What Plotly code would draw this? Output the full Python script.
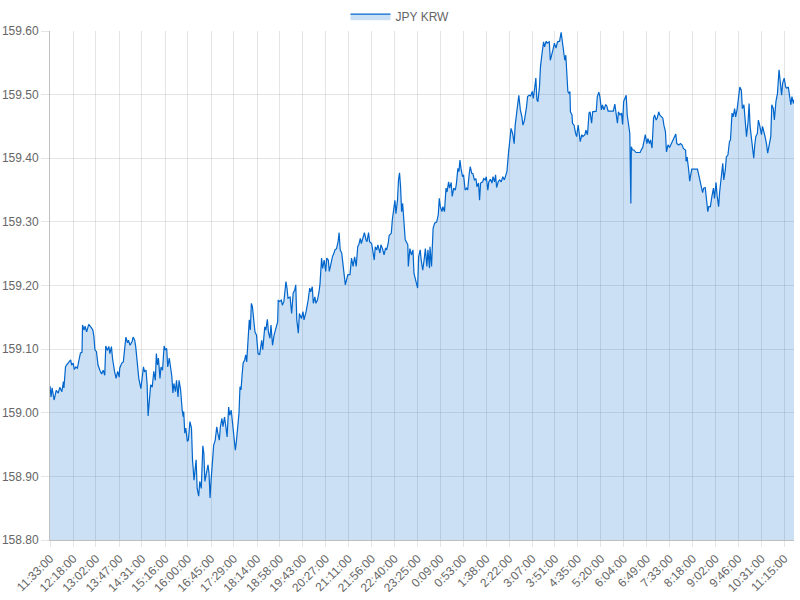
import pandas as pd
import plotly.graph_objects as go

# JPY/KRW rate, one day of quotes (minutes after the first quote)
start = pd.Timestamp("2024-05-20 11:33:00")

minutes = [
    0, 2, 4, 8, 12, 16, 19, 23, 26, 27,
    30, 32, 37, 40, 42, 45, 47, 50, 53, 57,
    59, 62, 63, 66, 68, 71, 75, 79, 83, 85,
    87, 90, 93, 97, 100, 103, 106, 108, 111, 114,
    116, 119, 121, 125, 128, 131, 134, 135, 139, 142,
    145, 147, 150, 152, 155, 159, 161, 164, 166, 169,
    172, 176, 178, 181, 183, 186, 188, 190, 193, 195,
    198, 201, 204, 206, 208, 210, 213, 215, 218, 221,
    223, 226, 228, 231,
    236, 238, 240, 243, 245, 248, 250, 253, 256, 258,
    259, 261, 263, 266, 268, 271, 274, 276, 279, 281,
    283, 285, 288, 290, 293, 296, 298, 300, 303, 306,
    308, 310, 312, 315, 317, 320, 323, 325, 328, 330,
    333, 335, 338, 341, 343, 346, 348, 351, 354, 356,
    359, 361, 364, 366, 368, 370, 372, 374, 377, 379,
    381, 384, 386, 388, 390, 392, 394, 397, 400, 403,
    406, 410, 412, 416, 418, 421, 423, 426, 428, 431,
    434, 436, 439, 441, 442, 445, 448, 450, 453, 455,
    457, 459, 461, 465, 468, 471, 474, 476, 478, 481,
    483,
    487, 490, 492, 496, 500, 503, 505, 508, 510, 513,
    515, 518, 521, 523, 526, 528, 531, 534, 536, 539,
    541, 544, 547, 550, 552, 555, 558, 560, 562, 565,
    567, 570, 572, 575, 577, 581, 584, 587, 590, 593,
    596, 598, 601, 603, 606, 609, 612, 614, 617, 619,
    623, 625, 628, 630, 633, 635, 639, 641, 644, 647,
    650, 652, 655, 657, 661, 663, 666, 668, 670, 673,
    675, 677, 679, 681, 683, 686, 688, 690, 693, 694,
    697, 700, 703, 705, 708, 712, 714, 717, 719, 722,
    725, 727, 730, 732, 735, 736, 739,
    742, 745, 749, 752, 754, 756, 759, 761, 764, 767,
    769, 772, 774, 777, 779, 782, 785, 787, 790, 792,
    794, 796, 799, 801, 804, 807, 809, 812, 814, 817,
    819, 822, 825, 827, 830, 832, 834, 838, 840, 843,
    845, 848, 850, 853, 856, 858, 861, 863, 865, 868,
    871, 874, 877, 880, 883, 885, 888, 890, 893, 896,
    899, 901, 903, 906, 908, 911, 914, 916, 919, 923,
    925, 928, 931, 934, 936, 939, 941, 943, 945, 948,
    950, 953, 956, 958, 961, 963, 967, 969, 972, 974,
    977, 980, 983, 987, 990, 993, 995, 997, 999, 1001,
    1003, 1005, 1007, 1008, 1011, 1012, 1015, 1018, 1020, 1023,
    1025, 1027, 1030, 1032, 1036, 1038, 1041, 1044, 1046, 1049,
    1051, 1055, 1058, 1060, 1063, 1065, 1068, 1070, 1073, 1076,
    1078, 1081, 1091, 1094, 1096, 1099, 1101, 1104, 1107, 1109,
    1111, 1114, 1116, 1118, 1121, 1123, 1125, 1126, 1128, 1131,
    1135, 1143, 1145, 1148, 1150, 1153, 1156, 1158, 1161, 1163,
    1166, 1169, 1171, 1174, 1176, 1179, 1181, 1184, 1187, 1189,
    1192, 1194, 1197, 1200, 1203, 1207, 1210, 1212, 1214, 1218,
    1221, 1224, 1227, 1231, 1232, 1234, 1237, 1239, 1241, 1243,
    1254, 1256, 1259, 1261, 1264, 1266, 1269, 1272, 1274, 1276,
    1279, 1282, 1285, 1287, 1290, 1292, 1295, 1297, 1300, 1303,
    1305, 1308, 1310, 1313, 1316, 1318, 1321, 1323, 1326, 1328,
    1331, 1334, 1336, 1339, 1341, 1344, 1347, 1349, 1352, 1354,
    1356, 1358, 1361, 1363, 1365, 1367, 1370, 1372, 1375, 1378,
    1380, 1383, 1385, 1388, 1390, 1393, 1396, 1398, 1401, 1403,
    1406, 1409, 1412, 1414, 1417, 1419, 1422, 1425, 1427, 1430,
    1432, 1435, 1437, 1440, 1441,
]

rates = [
    159.042, 159.025, 159.039, 159.020, 159.035, 159.031, 159.040, 159.033, 159.049, 159.039,
    159.072, 159.075, 159.080, 159.083, 159.075, 159.078, 159.068, 159.072, 159.070, 159.091,
    159.094, 159.095, 159.138, 159.130, 159.136, 159.127, 159.139, 159.135, 159.130, 159.120,
    159.099, 159.096, 159.075, 159.066, 159.061, 159.067, 159.059, 159.105, 159.098, 159.104,
    159.093, 159.104, 159.086, 159.065, 159.054, 159.065, 159.056, 159.070, 159.078, 159.080,
    159.104, 159.119, 159.110, 159.114, 159.106, 159.112, 159.119, 159.114, 159.104, 159.080,
    159.054, 159.038, 159.049, 159.072, 159.065, 159.067, 159.046, 158.995, 159.025, 159.044,
    159.040, 159.065, 159.051, 159.093, 159.075, 159.086, 159.054, 159.072, 159.067, 159.105,
    159.099, 159.101, 159.072, 159.086,
    159.057, 159.031, 159.046, 159.033, 159.051, 159.025, 159.051, 159.036, 159.004, 158.994,
    159.002, 158.968, 158.976, 158.955, 158.957, 158.986, 158.976, 158.926, 158.894, 158.915,
    158.926, 158.881, 158.869, 158.892, 158.881, 158.948, 158.936, 158.892, 158.907, 158.918,
    158.905, 158.866, 158.894, 158.936, 158.949, 158.957, 158.978, 158.968, 158.957, 158.978,
    158.991, 158.978, 158.993, 158.976, 158.962, 159.009, 158.996, 159.004, 158.976, 158.968,
    158.941, 158.955, 158.978, 158.999, 159.041, 159.036, 159.059, 159.078, 159.083, 159.091,
    159.080, 159.122, 159.146, 159.130, 159.172, 159.167, 159.151, 159.127, 159.122, 159.093,
    159.091, 159.114, 159.099, 159.135, 159.130, 159.147, 159.127, 159.117, 159.138, 159.106,
    159.122, 159.127, 159.138, 159.143, 159.177, 159.175, 159.177, 159.169, 159.175, 159.193,
    159.206, 159.196, 159.180, 159.182, 159.156, 159.188, 159.193, 159.201, 159.146, 159.125,
    159.156,
    159.148, 159.159, 159.146, 159.159, 159.177, 159.196, 159.190, 159.198, 159.172, 159.182,
    159.172, 159.177, 159.190, 159.203, 159.243, 159.227, 159.240, 159.222, 159.243, 159.240,
    159.222, 159.235, 159.245, 159.251, 159.256, 159.258, 159.269, 159.283, 159.256, 159.251,
    159.235, 159.219, 159.201, 159.211, 159.217, 159.217, 159.243, 159.230, 159.245, 159.230,
    159.261, 159.264, 159.274, 159.266, 159.274, 159.283, 159.272, 159.269, 159.283, 159.269,
    159.266, 159.256, 159.240, 159.261, 159.256, 159.264, 159.251, 159.264, 159.258, 159.248,
    159.259, 159.256, 159.266, 159.279, 159.282, 159.303, 159.321, 159.334, 159.313, 159.334,
    159.366, 159.377, 159.355, 159.316, 159.329, 159.285, 159.272, 159.269, 159.264, 159.230,
    159.258, 159.248, 159.256, 159.219, 159.209, 159.196, 159.245, 159.256, 159.240, 159.224,
    159.243, 159.258, 159.230, 159.256, 159.227, 159.261, 159.230,
    159.290, 159.298, 159.300, 159.311, 159.337, 159.324, 159.316, 159.324, 159.316, 159.353,
    159.347, 159.363, 159.353, 159.362, 159.340, 159.353, 159.350, 159.359, 159.384, 159.379,
    159.397, 159.384, 159.371, 159.374, 159.350, 159.353, 159.350, 159.376, 159.387, 159.376,
    159.376, 159.366, 159.368, 159.355, 159.361, 159.334, 159.361, 159.363, 159.368, 159.366,
    159.371, 159.350, 159.363, 159.367, 159.361, 159.371, 159.363, 159.374, 159.354, 159.363,
    159.366, 159.363, 159.371, 159.366, 159.374, 159.379, 159.408, 159.429, 159.447, 159.439,
    159.423, 159.452, 159.468, 159.484, 159.499, 159.476, 159.465, 159.452, 159.460, 159.481,
    159.497, 159.499, 159.498, 159.505, 159.494, 159.512, 159.526, 159.492, 159.489, 159.512,
    159.544, 159.565, 159.583, 159.575, 159.584, 159.581, 159.583, 159.554, 159.562, 159.570,
    159.581, 159.573, 159.583, 159.584, 159.598, 159.575, 159.570, 159.554, 159.562, 159.541,
    159.505, 159.502, 159.505, 159.473, 159.468, 159.455, 159.452, 159.439, 159.434, 159.452,
    159.434, 159.426, 159.437, 159.434, 159.437, 159.444, 159.437, 159.471, 159.473, 159.455,
    159.473, 159.474, 159.474, 159.497, 159.504, 159.497, 159.476, 159.484, 159.476, 159.484,
    159.483, 159.474, 159.474, 159.485, 159.471, 159.455, 159.473, 159.468, 159.471, 159.453,
    159.489, 159.494, 159.499, 159.468, 159.444, 159.439, 159.329, 159.418, 159.413, 159.413,
    159.409, 159.409, 159.413, 159.417, 159.425, 159.437, 159.423, 159.431, 159.423, 159.429,
    159.416, 159.463, 159.468, 159.460, 159.463, 159.473, 159.468, 159.465, 159.463, 159.452,
    159.442, 159.410, 159.421, 159.417, 159.423, 159.429, 159.434, 159.438, 159.423, 159.421,
    159.423, 159.421, 159.415, 159.413, 159.395, 159.402, 159.382, 159.364, 159.374, 159.383,
    159.383, 159.376, 159.363, 159.361, 159.346, 159.353, 159.354, 159.332, 159.316, 159.324,
    159.324, 159.340, 159.353, 159.337, 159.362, 159.342, 159.324, 159.347, 159.368, 159.392,
    159.366, 159.382, 159.402, 159.405, 159.426, 159.429, 159.471, 159.465, 159.478, 159.465,
    159.478, 159.505, 159.512, 159.507, 159.478, 159.484, 159.450, 159.434, 159.457, 159.486,
    159.450, 159.437, 159.413, 159.400, 159.421, 159.434, 159.439, 159.460, 159.450, 159.437,
    159.450, 159.442, 159.434, 159.421, 159.408, 159.421, 159.434, 159.484, 159.478, 159.460,
    159.489, 159.502, 159.539, 159.523, 159.499, 159.518, 159.526, 159.512, 159.510, 159.512,
    159.502, 159.484, 159.497, 159.486, 159.492,
]

tick_labels = [
    "11:33:00", "12:18:00", "13:02:00", "13:47:00", "14:31:00", "15:16:00",
    "16:00:00", "16:45:00", "17:29:00", "18:14:00", "18:58:00", "19:43:00",
    "20:27:00", "21:11:00", "21:56:00", "22:40:00", "23:25:00", "0:09:00",
    "0:53:00", "1:38:00", "2:22:00", "3:07:00", "3:51:00", "4:35:00",
    "5:20:00", "6:04:00", "6:49:00", "7:33:00", "8:18:00", "9:02:00",
    "9:46:00", "10:31:00", "11:15:00",
]

assert len(minutes) == len(rates)

times = start + pd.to_timedelta(minutes, unit="m")

# label times roll over midnight
tick_vals = []
for lab in tick_labels:
    t = start.normalize() + pd.to_timedelta(lab)
    if t < start:
        t += pd.Timedelta(days=1)
    tick_vals.append(t)

grid = "rgba(0,0,0,0.1)"

fig = go.Figure()
fig.add_trace(go.Scatter(
    x=times, y=rates, name="JPY KRW",
    mode="lines",
    line=dict(color="rgb(0,102,204)", width=1.2),
    fill="tozeroy",
    fillcolor="rgba(0,102,204,0.2)",
))

fig.update_layout(
    width=800, height=600,
    margin=dict(l=50, r=6, t=31, b=60),
    plot_bgcolor="white",
    paper_bgcolor="white",
    font=dict(family="Liberation Sans, Arial, sans-serif", size=12, color="#666"),
    showlegend=True,
    legend=dict(orientation="h", xref="container", yref="container",
                x=0.5, xanchor="center", y=0.973, yanchor="middle",
                font=dict(size=12, color="#666"), itemwidth=40),
)
fig.update_xaxes(
    type="date", automargin=False,
    range=[times[0], times[-1]],
    tickvals=tick_vals, ticktext=tick_labels, tickangle=-45,
    showgrid=True, gridcolor=grid,
    ticks="outside", ticklen=6, tickcolor=grid,
    showline=True, linecolor="rgba(0,0,0,0.25)",
)
fig.update_yaxes(
    automargin=False,
    range=[158.8, 159.6], dtick=0.1, tickformat=".2f",
    showgrid=True, gridcolor=grid,
    ticks="outside", ticklen=8, tickcolor=grid,
    showline=True, linecolor="rgba(0,0,0,0.25)",
)

# drop the default 8px page margin so the figure sits at the window corner
fig.write_html("out.html", config={"displayModeBar": False},
               post_script="document.body.style.margin = '0';")
